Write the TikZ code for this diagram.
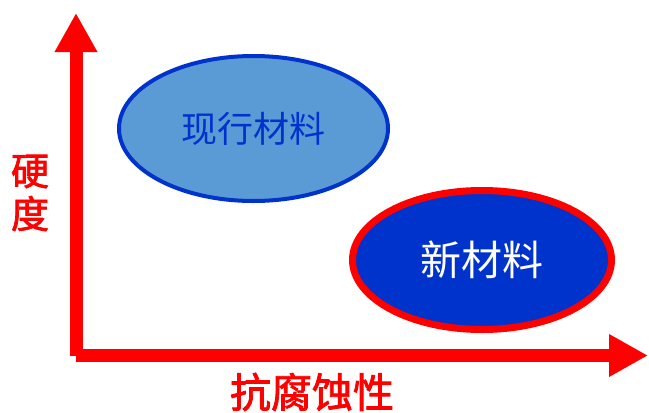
\documentclass[tikz,border=0pt]{standalone}
\usepackage{fontspec}
\newfontfamily\cjk{Noto Sans CJK SC}
\newfontfamily\cjkmed[FakeBold=2]{Noto Sans CJK SC}
\usetikzlibrary{shapes.geometric,arrows.meta}
\definecolor{axisred}{HTML}{FF0000}
\definecolor{deepblue}{HTML}{0033CC}
\definecolor{lightblue}{HTML}{5B9BD5}
\tikzset{
  axis/.style={draw=axisred, line width=13pt, -{Triangle[width=40pt,length=39pt]}},
  blob/.style={ellipse, inner sep=0pt},
  axislabel/.style={text=axisred, font=\cjkmed\fontsize{38}{43}\selectfont, align=center, inner sep=0pt},
}
\begin{document}
\begin{tikzpicture}[x=1pt,y=-1pt]
\useasboundingbox (0,0) rectangle (649,413);
\coordinate (vstart) at (76,356);
\coordinate (vend) at (76,13);
\coordinate (hstart) at (76,355.5);
\coordinate (hend) at (648,355.5);
\draw[axis] (vstart) -- (vend);
\draw[axis] (hstart) -- (hend);
\node[blob, draw=deepblue, line width=4pt, fill=lightblue, minimum width=269pt, minimum height=145pt,
  text=deepblue, font=\cjk\fontsize{36}{40}\selectfont] (old) at (253.5,128.5) {现行材料};
\node[blob, draw=axisred, line width=7pt, fill=deepblue, minimum width=259pt, minimum height=139pt,
  text=white, font=\cjk\fontsize{41}{44}\selectfont] (new) at (482,260) {新材料};
\node[axislabel] (ylab) at (30,193) {硬\\度};
\node[axislabel, font=\cjkmed\fontsize{41}{44}\selectfont] (xlab) at (312,392) {抗腐蚀性};
\end{tikzpicture}
\end{document}
